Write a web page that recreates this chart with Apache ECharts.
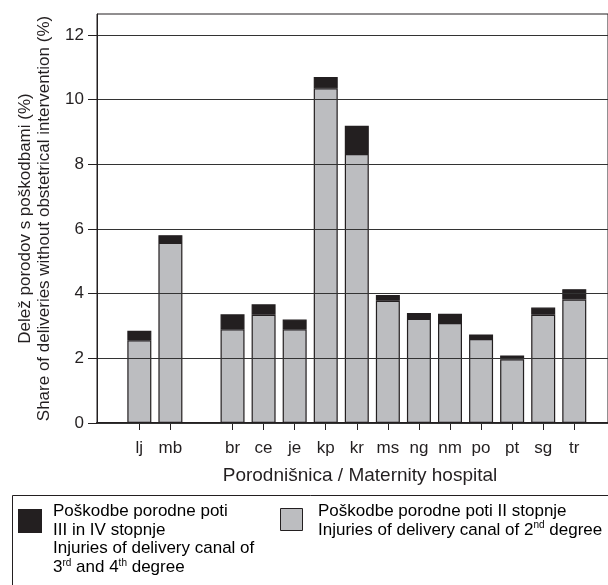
<!DOCTYPE html>
<html>
<head>
<meta charset="utf-8">
<script src="https://cdn.jsdelivr.net/npm/echarts@6/dist/echarts.min.js"></script>
<style>html,body{margin:0;padding:0;background:#fff}#c{width:608px;height:585px}</style>
</head>
<body>
<div id="c"></div>
<script>
// Categories ('' is the spacer between lj/mb and the rest)
var categories = ['lj','mb','','br','ce','je','kp','kr','ms','ng','nm','po','pt','sg','tr'];
// Injuries of 2nd degree (%)
var secondDegree = [2.56, 5.57, null, 2.90, 3.35, 2.90, 10.35, 8.32, 3.78, 3.22, 3.09, 2.60, 1.97, 3.35, 3.82];
// Injuries of 3rd and 4th degree (%)
var thirdFourthDegree = [0.29, 0.24, null, 0.46, 0.32, 0.30, 0.35, 0.87, 0.18, 0.18, 0.29, 0.14, 0.12, 0.22, 0.32];
var yTicks = [0, 2, 4, 6, 8, 10, 12];
var seriesNames = ['Poškodbe porodne poti II stopnje', 'Poškodbe porodne poti III in IV stopnje'];

var FONT = "'Liberation Sans', Arial, Helvetica, sans-serif";
var INK = '#231f20';
var GRAY = '#bcbdc0';
var YMAX = 12.65;

var chart = echarts.init(document.getElementById('c'), null, {renderer: 'canvas'});
var supRich = {
  n: {fontFamily: FONT, fontSize: 17, color: INK, lineHeight: 18.7},
  s: {fontFamily: FONT, fontSize: 10, color: INK, lineHeight: 18.7, verticalAlign: 'top', padding: [0, 0, 7, 0]}
};
chart.setOption({
  animation: false,
  backgroundColor: '#fff',
  grid: [
    {left: 97, right: -2, top: 14, bottom: 162, show: true, borderColor: INK, borderWidth: 1, backgroundColor: 'transparent'},
    {left: 123.8, right: 18.2, top: 14, bottom: 162}
  ],
  title: {
    text: 'Porodnišnica / Maternity hospital',
    left: 355, top: 461, textAlign: 'center',
    textStyle: {fontFamily: FONT, fontSize: 19, fontWeight: 'normal', color: INK}
  },
  xAxis: [
    {
      gridIndex: 0, type: 'value', min: 0, max: 1,
      splitLine: {show: false}, axisTick: {show: false}, axisLabel: {show: false},
      axisLine: {show: true, onZero: false, lineStyle: {color: INK, width: 2}}
    },
    {
      gridIndex: 1, type: 'category', data: categories, boundaryGap: true,
      axisLine: {show: false},
      axisTick: {show: true, alignWithLabel: true, length: 7, lineStyle: {color: INK, width: 1},
        interval: function (idx, val) { return val !== ''; }},
      axisLabel: {interval: 0, margin: 17, fontFamily: FONT, fontSize: 17, color: INK}
    }
  ],
  yAxis: [
    {
      gridIndex: 0, type: 'value', min: 0, max: YMAX, interval: 2, z: 5,
      axisLine: {show: true, onZero: false, lineStyle: {color: INK, width: 1}},
      axisTick: {show: true, customValues: yTicks, length: 9, lineStyle: {color: INK}},
      axisLabel: {customValues: yTicks, margin: 13, fontFamily: FONT, fontSize: 17, color: INK},
      splitLine: {show: true, lineStyle: {color: '#333', width: 1.2}},
      name: 'Delež porodov s poškodbami (%)\nShare of deliveries without obstetrical intervention (%)',
      nameLocation: 'middle', nameGap: 43,
      nameTextStyle: {fontFamily: FONT, fontSize: 17, color: INK, lineHeight: 19}
    },
    {
      gridIndex: 1, type: 'value', min: 0, max: YMAX, show: false
    }
  ],
  series: [
    {
      name: seriesNames[0], type: 'bar', stack: 'a', barWidth: 24,
      xAxisIndex: 1, yAxisIndex: 1,
      data: secondDegree,
      itemStyle: {color: GRAY, borderColor: INK, borderWidth: 1.2}
    },
    {
      name: seriesNames[1], type: 'bar', stack: 'a', barWidth: 24,
      xAxisIndex: 1, yAxisIndex: 1,
      data: thirdFourthDegree,
      itemStyle: {color: INK, borderColor: INK, borderWidth: 1.2}
    }
  ],
  graphic: [
    {type: 'rect', shape: {x: 12.5, y: 495.5, width: 620, height: 120}, style: {fill: 'none', stroke: INK, lineWidth: 1}},
    {type: 'rect', shape: {x: 18, y: 509, width: 24, height: 24}, style: {fill: INK}},
    {type: 'text', x: 53, y: 502, style: {
      text: '{n|Poškodbe porodne poti}\n{n|III in IV stopnje}\n{n|Injuries of delivery canal of}\n{n|3}{s|rd}{n| and 4}{s|th}{n| degree}',
      rich: supRich
    }},
    {type: 'rect', shape: {x: 280.5, y: 508.5, width: 22, height: 22}, style: {fill: GRAY, stroke: INK, lineWidth: 1}},
    {type: 'text', x: 318, y: 502, style: {
      text: '{n|Poškodbe porodne poti II stopnje}\n{n|Injuries of delivery canal of 2}{s|nd}{n| degree}',
      rich: supRich
    }}
  ]
});
</script>
</body>
</html>
